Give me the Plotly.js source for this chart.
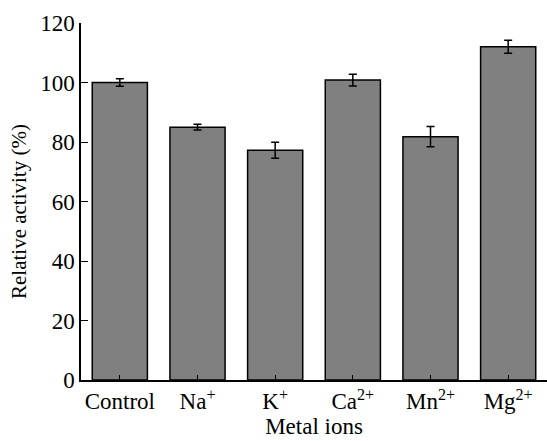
<!DOCTYPE html>
<html><head><meta charset="utf-8">
<script src="https://cdn.plot.ly/plotly-3.0.1.min.js"></script>
</head><body><div id="c"></div>
<script>
document.body.style.margin = "0";

const categories = ["Control","Na<sup>+</sup>","K<sup>+</sup>","Ca<sup>2+</sup>","Mn<sup>2+</sup>","Mg<sup>2+</sup>"];
const activity = [100, 85, 77.2, 100.8, 81.8, 112];
const errors = [1.3, 0.95, 2.7, 2.0, 3.4, 2.2];
const positions = [0, 1, 2, 3, 4, 5];
const boundaries = [-0.5, 0.5, 1.5, 2.5, 3.5, 4.5, 5.5];
const yTicks = [0, 20, 40, 60, 80, 100, 120];
const yMinorTicks = [10, 30, 50, 70, 90, 110];

const fam = "Liberation Serif";
const f23 = {family: fam, size: 23, color: "#000"};
Plotly.newPlot("c", [{
  type: "bar", x: positions, y: activity, width: 0.71,
  marker: {color: "#808080", line: {color: "#000", width: 1.5}},
  error_y: {type: "data", array: errors, visible: true, color: "#000", thickness: 1.5, width: 4}
}], {
  width: 547, height: 441,
  margin: {l: 81, r: 0, t: 23, b: 61},
  paper_bgcolor: "#fff", plot_bgcolor: "#fff",
  font: f23, showlegend: false,
  xaxis: {
    range: [-0.5, 5.5], tickvals: positions, ticktext: categories,
    showline: true, linecolor: "#000", linewidth: 1.5,
    ticks: "inside", ticklen: 5, tickwidth: 1, tickcolor: "#000",
    showgrid: false, zeroline: false, tickfont: f23,
    title: {text: "Metal ions", font: f23, standoff: 4}
  },
  xaxis2: {
    overlaying: "x", matches: "x", range: [-0.5, 5.5], tickvals: boundaries, showticklabels: false,
    ticks: "inside", ticklen: 3, tickwidth: 1, tickcolor: "#000", showgrid: false, zeroline: false, showline: false, side: "bottom"
  },
  yaxis: {
    range: [0, 120], tickvals: yTicks,
    showline: true, linecolor: "#000", linewidth: 1.5,
    ticks: "inside", ticklen: 7, tickwidth: 1, tickcolor: "#000",
    showgrid: false, zeroline: false, tickfont: f23
  },
  yaxis2: {
    overlaying: "y", range: [0, 120], tickvals: yMinorTicks, showticklabels: false,
    ticks: "inside", ticklen: 4, tickwidth: 1, tickcolor: "#000", showgrid: false, zeroline: false, showline: false, side: "left"
  },
  annotations: [{
    text: "Relative activity (%)", xref: "paper", yref: "paper", x: 0, y: 0.4706,
    xshift: -62, xanchor: "center", yanchor: "middle", textangle: -90, showarrow: false,
    font: {family: fam, size: 21, color: "#000"}
  }]
}, {displayModeBar: false});
</script></body></html>
